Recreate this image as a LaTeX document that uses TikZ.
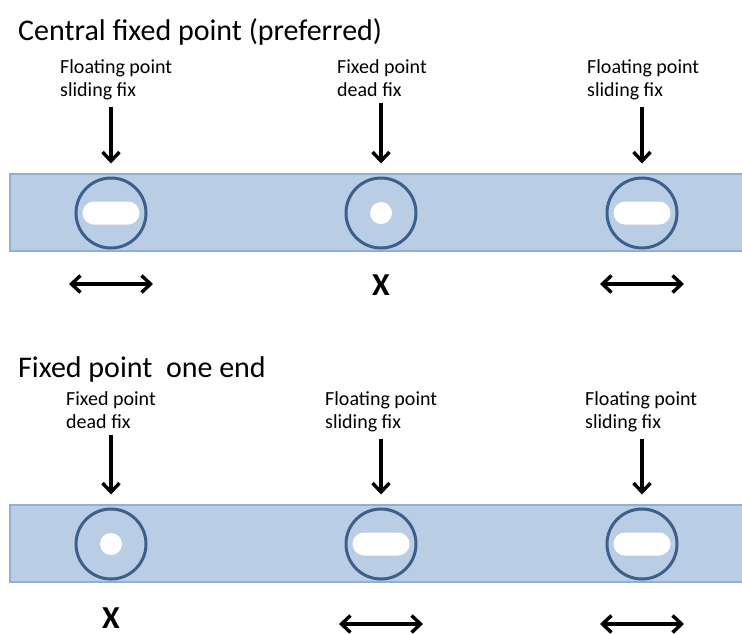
\documentclass[tikz,border=0pt]{standalone}
\usepackage{fontspec}
\setmainfont{Carlito}
\usetikzlibrary{arrows.meta}
\definecolor{barfill}{HTML}{B9CDE5}
\definecolor{barline}{HTML}{92B0D6}
\definecolor{ringblue}{HTML}{3D5F8C}

\begin{document}
\begin{tikzpicture}[
            x=1pt, y=-1pt,
            heading/.style = {anchor=base west, inner sep=0, font=\fontsize{30}{34}\selectfont},
            fixtext/.style = {anchor=base west, inner sep=0, align=left, font=\fontsize{20}{23}\selectfont},
            bar/.style = {fill=barfill, draw=barline, line width=1.5pt},
            ring/.style = {circle, draw=ringblue, line width=3pt, minimum size=70pt, inner sep=0},
            slot/.style = {rectangle, fill=white, rounded corners=11.5pt, minimum width=57pt, minimum height=23pt, inner sep=0},
            dot/.style = {circle, fill=white, minimum size=22pt, inner sep=0},
            push/.style = {line width=3.4pt, -{Straight Barb[length=9pt, width=17pt]}, shorten <=7pt, shorten >=13pt},
            slide/.style = {line width=3.4pt, {Straight Barb[length=9pt, width=17pt]}-{Straight Barb[length=9pt, width=17pt]}},
            crossmark/.style = {inner sep=0, font=\bfseries\fontsize{32}{34}\selectfont}
        ]
        \useasboundingbox (0,0) rectangle (742,633);

        % central fixed point
        \node[heading] (head1) at (18,40) {Central fixed point (preferred)};
        \draw[bar] (10,174) rectangle (750,251);

        \node[fixtext] (top1) at (60,96) {Floating point\\sliding fix};
        \node[fixtext] (top2) at (337,96) {Fixed point\\dead fix};
        \node[fixtext] (top3) at (587,96) {Floating point\\sliding fix};

        \node[ring] (ringA) at (111,213) {};
        \node[ring] (ringB) at (381,213) {};
        \node[ring] (ringC) at (642,213) {};
        \node[slot] (holeA) at (ringA) {};
        \node[dot]  (holeB) at (ringB) {};
        \node[slot] (holeC) at (ringC) {};

        \draw[push] (top1.south -| ringA) -- (ringA.north);
        \draw[push] (top2.south -| ringB) -- (ringB.north);
        \draw[push] (top3.south -| ringC) -- (ringC.north);

        \coordinate (moveA1) at (69,284);
        \coordinate (moveA2) at (153,284);
        \coordinate (moveC1) at (600,284);
        \coordinate (moveC2) at (684,284);
        \draw[slide] (moveA1) -- (moveA2);
        \draw[slide] (moveC1) -- (moveC2);
        \node[crossmark] (stayB) at (381,285) {X};

        % fixed point at one end
        \node[heading] (head2) at (18,377) {Fixed point\ \ one end};
        \draw[bar] (10,505) rectangle (750,582);

        \node[fixtext] (bot1) at (66,428) {Fixed point\\dead fix};
        \node[fixtext] (bot2) at (325,428) {Floating point\\sliding fix};
        \node[fixtext] (bot3) at (585,428) {Floating point\\sliding fix};

        \node[ring] (ringD) at (111,544) {};
        \node[ring] (ringE) at (381,544) {};
        \node[ring] (ringF) at (642,544) {};
        \node[dot]  (holeD) at (ringD) {};
        \node[slot] (holeE) at (ringE) {};
        \node[slot] (holeF) at (ringF) {};

        \draw[push] (bot1.south -| ringD) -- (ringD.north);
        \draw[push] (bot2.south -| ringE) -- (ringE.north);
        \draw[push] (bot3.south -| ringF) -- (ringF.north);

        \node[crossmark] (stayD) at (111,618) {X};
        \coordinate (moveE1) at (339,624);
        \coordinate (moveE2) at (423,624);
        \coordinate (moveF1) at (600,624);
        \coordinate (moveF2) at (684,624);
        \draw[slide] (moveE1) -- (moveE2);
        \draw[slide] (moveF1) -- (moveF2);

    \end{tikzpicture}
\end{document}
